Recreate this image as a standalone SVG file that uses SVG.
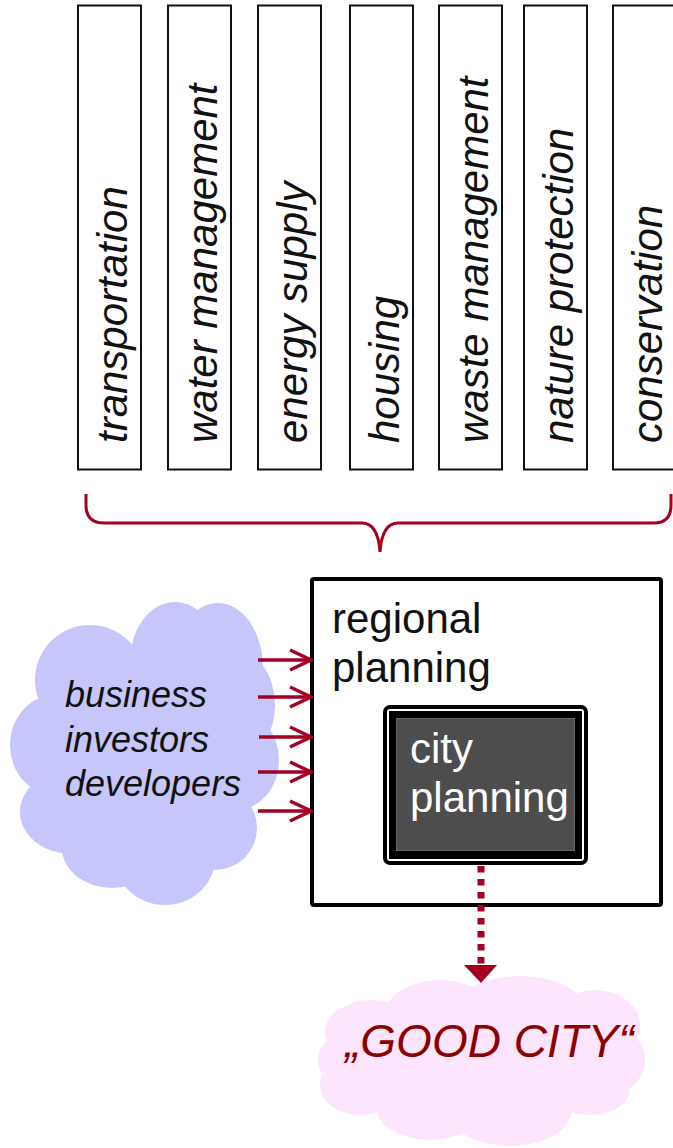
<svg xmlns="http://www.w3.org/2000/svg" width="673" height="1148" viewBox="0 0 673 1148">
<style>
.col{fill:#fff;stroke:#111;stroke-width:2}
.vt{font-family:"Liberation Sans",Arial,sans-serif;font-style:italic;font-size:42px;fill:#111}
.lbl{font-family:"Liberation Sans",Arial,sans-serif;font-size:42px}
.arr{stroke:#A50021;stroke-width:3.5;fill:none}
</style>
<defs>
<marker id="chev" viewBox="0 0 24 24" markerWidth="24" markerHeight="24" refX="22" refY="12" orient="auto" markerUnits="userSpaceOnUse">
<path d="M1,2 L22,12 L1,22" fill="none" stroke="#A50021" stroke-width="3.5"/>
</marker>
</defs>
<rect width="673" height="1148" fill="#fff"/>

<g id="col-transportation"><rect class="col" x="78" y="5.5" width="63" height="464"/><text class="vt" transform="translate(127,443) rotate(-90)">transportation</text></g>
<g id="col-water"><rect class="col" x="168" y="5.5" width="63" height="464"/><text class="vt" transform="translate(217,443) rotate(-90)">water management</text></g>
<g id="col-energy"><rect class="col" x="258" y="5.5" width="63" height="464"/><text class="vt" transform="translate(307,443) rotate(-90)">energy supply</text></g>
<g id="col-housing"><rect class="col" x="350" y="5.5" width="63" height="464"/><text class="vt" transform="translate(399,443) rotate(-90)">housing</text></g>
<g id="col-waste"><rect class="col" x="439" y="5.5" width="63" height="464"/><text class="vt" transform="translate(488,443) rotate(-90)">waste management</text></g>
<g id="col-nature"><rect class="col" x="524" y="5.5" width="63" height="464"/><text class="vt" transform="translate(573,443) rotate(-90)">nature protection</text></g>
<g id="col-conservation"><rect class="col" x="613" y="5.5" width="63" height="464"/><text class="vt" transform="translate(662,443) rotate(-90)">conservation</text></g>

<g id="brace"><path d="M86,494 L86,505 Q86,523 104,523 L362,523 Q378,523 380,552 Q382,523 398,523 L654,523 Q671,523 671,505 L671,494" fill="none" stroke="#A50021" stroke-width="3"/></g>

<g id="cloud-business" fill="#C6C6FA">
<ellipse cx="90" cy="680" rx="55" ry="55"/>
<ellipse cx="175" cy="662" rx="45" ry="60"/>
<ellipse cx="218" cy="668" rx="45" ry="65"/>
<ellipse cx="235" cy="705" rx="40" ry="55"/>
<ellipse cx="236" cy="760" rx="43" ry="50"/>
<ellipse cx="55" cy="745" rx="45" ry="50"/>
<ellipse cx="72" cy="812" rx="52" ry="42"/>
<ellipse cx="112" cy="848" rx="50" ry="40"/>
<ellipse cx="165" cy="858" rx="50" ry="47"/>
<ellipse cx="215" cy="828" rx="42" ry="42"/>
<ellipse cx="150" cy="750" rx="100" ry="100"/>
<text font-family="'Liberation Sans',Arial,sans-serif" font-style="italic" font-size="36" fill="#111"><tspan x="65" y="707">business</tspan><tspan x="65" y="752">investors</tspan><tspan x="65" y="796">developers</tspan></text>
</g>

<g id="regional">
<rect x="312" y="579" width="349" height="326" rx="2" fill="#fff" stroke="#000" stroke-width="4"/>
<text class="lbl" fill="#111"><tspan x="332" y="633">regional</tspan><tspan x="332" y="682">planning</tspan></text>
</g>

<g id="city">
<rect x="383" y="705" width="205" height="160" rx="7" fill="#000"/>
<rect x="387" y="709" width="197" height="152" rx="3" fill="#fff"/>
<rect x="389" y="711" width="193" height="148" fill="#000"/>
<rect x="396.5" y="718.5" width="178" height="132" fill="#4D4D4D" stroke="#666" stroke-width="1"/>
<text class="lbl" fill="#fff"><tspan x="410" y="763">city</tspan><tspan x="410" y="812">planning</tspan></text>
</g>

<g id="cloud-good" fill="#FDE5FD">
<ellipse cx="372" cy="1032" rx="47" ry="32"/>
<ellipse cx="440" cy="1015" rx="55" ry="35"/>
<ellipse cx="520" cy="1010" rx="65" ry="34"/>
<ellipse cx="595" cy="1025" rx="45" ry="35"/>
<ellipse cx="608" cy="1060" rx="37" ry="35"/>
<ellipse cx="590" cy="1090" rx="40" ry="25"/>
<ellipse cx="510" cy="1110" rx="62" ry="36"/>
<ellipse cx="430" cy="1105" rx="55" ry="35"/>
<ellipse cx="360" cy="1085" rx="40" ry="30"/>
<ellipse cx="346" cy="1060" rx="28" ry="26"/>
<ellipse cx="480" cy="1060" rx="130" ry="50"/>
<text x="345" y="1057" font-family="'Liberation Sans',Arial,sans-serif" font-style="italic" font-size="46" fill="#8C0000">„GOOD CITY“</text>
</g>

<g id="connectors">
<line class="arr" x1="258" y1="660" x2="311" y2="660" marker-end="url(#chev)"/>
<line class="arr" x1="258" y1="697" x2="311" y2="697" marker-end="url(#chev)"/>
<line class="arr" x1="259" y1="737" x2="311" y2="737" marker-end="url(#chev)"/>
<line class="arr" x1="258" y1="772" x2="311" y2="772" marker-end="url(#chev)"/>
<line class="arr" x1="258" y1="811" x2="311" y2="811" marker-end="url(#chev)"/>
<line x1="481" y1="866" x2="481" y2="965" stroke="#A50021" stroke-width="7" stroke-dasharray="6.5 6.5"/>
<path d="M464,965 L497,965 L481,983 Z" fill="#A50021"/>
</g>
</svg>
